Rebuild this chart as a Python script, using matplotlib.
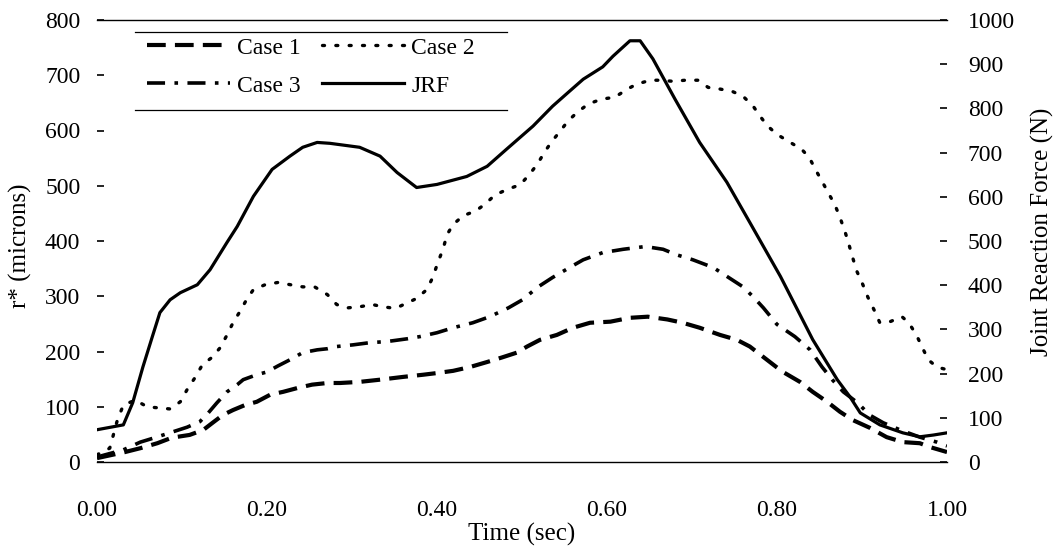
import matplotlib.pyplot as plt
from matplotlib.lines import Line2D

plt.rcParams['font.family'] = ['Liberation Serif', 'DejaVu Serif']

######################################################################
# Case 1, r* (microns)
c1_t = [0.0, 0.033, 0.051, 0.071, 0.088, 0.109, 0.125, 0.136, 0.148, 0.160,
        0.174, 0.188, 0.204, 0.219, 0.236, 0.253, 0.271, 0.286, 0.309, 0.333,
        0.360, 0.384, 0.400, 0.419, 0.439, 0.459, 0.476, 0.494, 0.506, 0.521,
        0.541, 0.560, 0.580, 0.604, 0.627, 0.648, 0.671, 0.689, 0.709, 0.733,
        0.753, 0.768, 0.784, 0.800, 0.807, 0.827, 0.842, 0.859, 0.874, 0.889,
        0.909, 0.929, 0.948, 0.968, 0.980, 1.0]
c1_r = [7, 18, 25, 34, 44, 49, 58, 71, 85, 94,
        103, 109, 122, 127, 134, 140, 143, 143, 145, 149,
        154, 158, 161, 165, 172, 181, 189, 198, 209, 221,
        230, 243, 252, 254, 261, 263, 258, 252, 243, 230,
        221, 209, 190, 171, 163, 145, 127, 109, 91, 76,
        62, 45, 36, 34, 27, 18]

# Case 2
c2_t = [0.0, 0.015, 0.024, 0.031, 0.045, 0.059, 0.072, 0.086, 0.098, 0.106,
        0.115, 0.124, 0.135, 0.145, 0.153, 0.160, 0.168, 0.176, 0.184, 0.198,
        0.213, 0.227, 0.242, 0.256, 0.271, 0.282, 0.295, 0.309, 0.324, 0.336,
        0.351, 0.365, 0.376, 0.388, 0.395, 0.401, 0.407, 0.412, 0.419, 0.431,
        0.445, 0.456, 0.468, 0.482, 0.498, 0.509, 0.518, 0.527, 0.535, 0.545,
        0.554, 0.565, 0.578, 0.594, 0.609, 0.624, 0.635, 0.651, 0.662, 0.678,
        0.692, 0.707, 0.719, 0.733, 0.747, 0.760, 0.772, 0.780, 0.789, 0.800,
        0.815, 0.829, 0.838, 0.845, 0.853, 0.860, 0.868, 0.874, 0.880, 0.884,
        0.889, 0.894, 0.901, 0.907, 0.914, 0.921, 0.933, 0.947, 0.955, 0.964,
        0.971, 0.978, 0.988, 1.0]
c2_r = [13, 25, 76, 103, 112, 100, 98, 96, 109, 131,
        152, 176, 189, 207, 230, 252, 272, 294, 312, 321,
        325, 321, 317, 317, 303, 285, 279, 281, 285, 281,
        278, 288, 296, 312, 334, 361, 385, 412, 430, 446,
        454, 466, 483, 493, 502, 521, 539, 562, 580, 599,
        617, 633, 648, 657, 660, 675, 684, 691, 691, 689,
        691, 691, 678, 675, 671, 662, 644, 626, 608, 593,
        579, 566, 551, 530, 508, 488, 466, 443, 417, 397,
        370, 345, 321, 298, 276, 252, 254, 263, 252, 230,
        207, 185, 172, 167]

# Case 3
c3_t = [0.0, 0.031, 0.051, 0.068, 0.086, 0.106, 0.121, 0.131, 0.141, 0.153,
        0.165, 0.172, 0.188, 0.200, 0.213, 0.227, 0.242, 0.259, 0.271, 0.282,
        0.301, 0.321, 0.341, 0.365, 0.380, 0.400, 0.419, 0.442, 0.462, 0.484,
        0.501, 0.518, 0.536, 0.556, 0.572, 0.595, 0.619, 0.645, 0.666, 0.682,
        0.701, 0.725, 0.741, 0.760, 0.772, 0.784, 0.800, 0.821, 0.839, 0.853,
        0.865, 0.878, 0.895, 0.909, 0.925, 0.945, 0.968, 0.988, 1.0]
c3_r = [9, 22, 36, 44, 53, 63, 73, 89, 107, 127,
        140, 149, 158, 163, 174, 185, 198, 203, 205, 209,
        212, 216, 218, 223, 227, 234, 243, 252, 263, 279,
        294, 316, 334, 352, 366, 379, 385, 390, 385, 375,
        366, 352, 336, 317, 299, 279, 249, 227, 203, 172,
        149, 127, 107, 85, 71, 58, 45, 36, 29]

# joint reaction force (N), right axis
jrf_t = [0.0, 0.031, 0.042, 0.054, 0.065, 0.074, 0.086, 0.098, 0.118, 0.133,
         0.153, 0.165, 0.184, 0.206, 0.227, 0.242, 0.259, 0.274, 0.309, 0.333,
         0.353, 0.376, 0.400, 0.435, 0.459, 0.482, 0.513, 0.536, 0.556, 0.572,
         0.595, 0.607, 0.627, 0.639, 0.654, 0.680, 0.709, 0.741, 0.768, 0.804,
         0.812, 0.842, 0.871, 0.886, 0.898, 0.921, 0.948, 0.968, 0.984, 1.0]
jrf_f = [73, 84, 134, 215, 283, 338, 367, 383, 401, 435,
         497, 533, 601, 662, 692, 712, 723, 721, 712, 692,
         655, 621, 628, 646, 669, 708, 760, 805, 839, 866,
         894, 918, 953, 953, 912, 821, 723, 633, 542, 420,
         390, 277, 186, 147, 111, 84, 66, 57, 61, 66]

x_ticks = [0.0, 0.2, 0.4, 0.6, 0.8, 1.0]
x_labels = ['0.00', '0.20', '0.40', '0.60', '0.80', '1.00']
######################################################################

W, H = 1059, 550
fs = 17

fig = plt.figure(figsize=(W / 100, H / 100), dpi=100)
ax = fig.add_axes([97 / W, 1 - 462 / H, 850 / W, 442 / H])
ax2 = ax.twinx()

style1 = dict(color='black', lw=3.0, linestyle=(0, (4.5, 2.2)))
style2 = dict(color='black', lw=2.4, linestyle=(0, (0.6, 3.4)), dash_capstyle='round')
style3 = dict(color='black', lw=2.6, linestyle=(0, (5.0, 2.6, 1.0, 2.6)))
style_j = dict(color='black', lw=2.3)

ax.plot(c1_t, c1_r, **style1)
ax.plot(c2_t, c2_r, **style2)
ax.plot(c3_t, c3_r, **style3)
ax2.plot(jrf_t, jrf_f, **style_j)

ax.set_xlim(0, 1)
ax.set_ylim(0, 800)
ax2.set_ylim(0, 1000)
ax.set_xticks(x_ticks)
ax.set_xticklabels(x_labels)
ax.set_yticks(range(0, 801, 100))
ax2.set_yticks(range(0, 1001, 100))

for a in (ax, ax2):
    a.spines['left'].set_visible(False)
    a.spines['right'].set_visible(False)
ax2.spines['top'].set_visible(False)
ax2.spines['bottom'].set_visible(False)
ax.spines['top'].set_linewidth(1.0)
ax.spines['bottom'].set_linewidth(1.0)

ax.tick_params(axis='x', length=0, pad=27, labelsize=fs)
ax.tick_params(axis='y', direction='in', length=5, width=1.2, pad=12, labelsize=fs)
ax2.tick_params(axis='y', direction='in', length=5, width=1.2, pad=15, labelsize=fs)

ax.set_xlabel('Time (sec)', fontsize=18, labelpad=2)
ax.set_ylabel('r* (microns)', fontsize=18)
ax2.set_ylabel('Joint Reaction Force (N)', fontsize=18)
ax.yaxis.set_label_coords(-0.0765, 0.489)
ax2.yaxis.set_label_coords(1.099, 0.52)

# legend: two rows, lines only above and below
handles = [Line2D([], [], **style1), Line2D([], [], **style3),
           Line2D([], [], **style2), Line2D([], [], **style_j)]
labels = ['Case 1', 'Case 3', 'Case 2', 'JRF']
fig.legend(handles, labels, ncol=2, loc='upper left',
           bbox_to_anchor=(147 / W, 1 - 37 / H), frameon=False, fontsize=fs,
           handlelength=3.5, handletextpad=0.3, columnspacing=0.9,
           labelspacing=0.7, borderpad=0, borderaxespad=0)
for yy in (32, 110):
    fig.add_artist(Line2D([135 / W, 507 / W], [1 - yy / H, 1 - yy / H],
                          transform=fig.transFigure, color='black', lw=0.9))

fig.savefig('out.png', dpi=100)
